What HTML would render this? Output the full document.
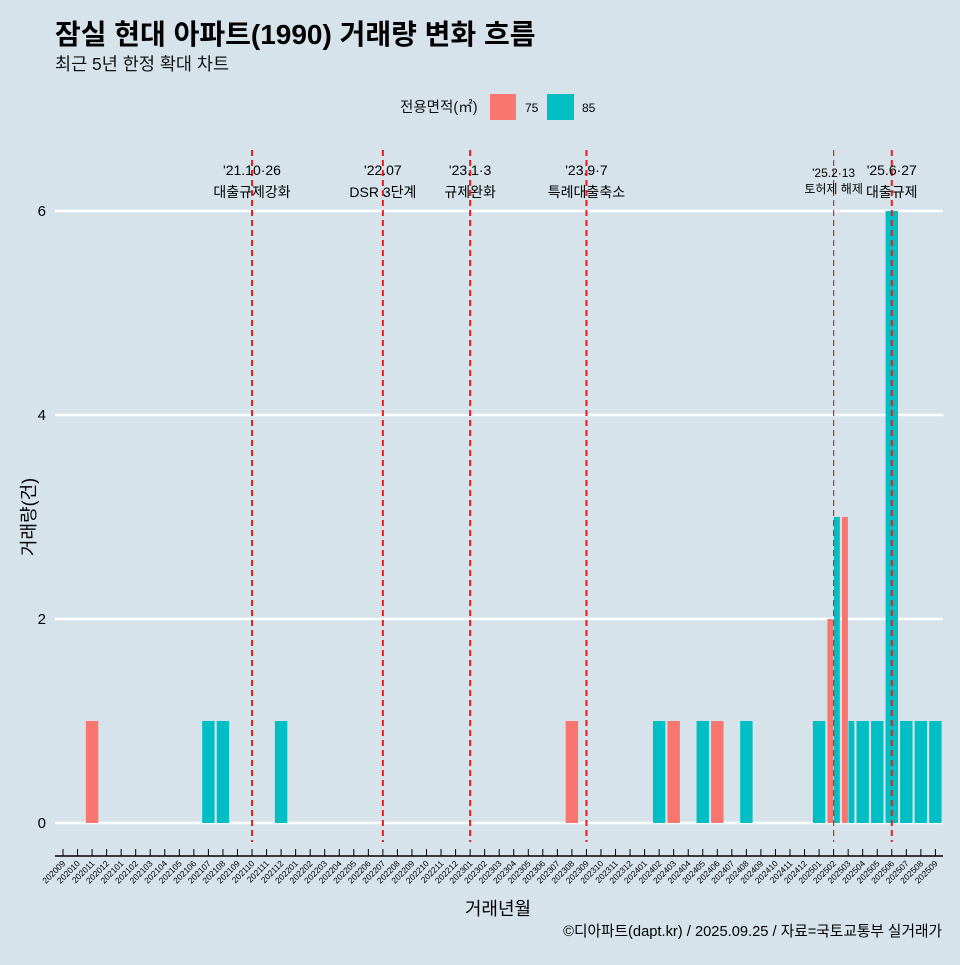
<!DOCTYPE html>
<html><head><meta charset="utf-8"><style>
body{margin:0;background:#d6e3ea;font-family:"Liberation Sans","Noto Sans CJK KR",sans-serif;}
svg text{font-family:"Liberation Sans","Noto Sans CJK KR",sans-serif;}
</style></head><body>
<svg id="c" width="960" height="960" xmlns="http://www.w3.org/2000/svg">
<rect width="960" height="960" fill="#d6e3ea"/>
<text x="55" y="44" font-size="28" font-weight="bold" fill="#000">잠실 현대 아파트(1990) 거래량 변화 흐름</text>
<text x="55" y="70" font-size="17.5" fill="#111">최근 5년 한정 확대 차트</text>
<g>
<text x="400" y="112" font-size="14.5" fill="#111">전용면적(㎡)</text>
<rect x="490" y="94" width="26" height="26" fill="#f8766d"/>
<text x="525" y="112" font-size="12">75</text>
<rect x="547" y="94" width="27" height="26" fill="#00bfc4"/>
<text x="582" y="112" font-size="12">85</text>
</g>
<g id="grid"></g><g id="bars"></g><g id="events"></g><g id="xaxis"></g>
<text transform="translate(35,517) rotate(-90)" text-anchor="middle" font-size="18">거래량(건)</text>
<text x="498" y="915" text-anchor="middle" font-size="18">거래년월</text>
<text x="942" y="936" text-anchor="end" font-size="14.7">©디아파트(dapt.kr) / 2025.09.25 / 자료=국토교통부 실거래가</text>
</svg>
<script>
const months=[];for(let y=2020,m=9;!(y===2025&&m===10);){months.push(''+y+(m<10?'0':'')+m);m++;if(m>12){m=1;y++;}}
const yTicks=[0,2,4,6];
const series75Months=['202011','202308','202403','202406','202502','202503'];
const series75Values=[1,1,1,1,2,3];
const series85Months=['202107','202108','202112','202402','202405','202408','202501','202502','202503','202504','202505','202506','202507','202508','202509'];
const series85Values=[1,1,1,1,1,1,1,3,1,1,1,6,1,1,1];
const eventMonths=['202110','202207','202301','202309','202502','202506'];
const eventDates=["'21.10·26","'22.07","'23.1·3","'23.9·7","'25.2·13","'25.6·27"];
const eventNames=['대출규제강화','DSR 3단계','규제완화','특례대출축소','토허제 해제','대출규제'];
const NS='http://www.w3.org/2000/svg';
const x=i=>63+i*14.54, y=v=>823-v*102;
function mk(tag,attrs,parent,txt){const e=document.createElementNS(NS,tag);for(const k in attrs)e.setAttribute(k,attrs[k]);if(txt!==undefined)e.textContent=txt;document.getElementById(parent).appendChild(e);return e;}
yTicks.forEach(t=>{
 let l=mk('line',{x1:55,x2:943,y1:y(t),y2:y(t),stroke:'#fff','stroke-width':2.5},'grid');
 
 
 let tx=mk('text',{x:46,y:y(t)+5,'text-anchor':'end','font-size':15},'grid',t);
 
 
});
const bw=13;
function drawBar(mon,val,col,name,both,side){
 const i=months.indexOf(mon);const cx=x(i);
 let x0,w;
 if(both){w=bw/2;x0=side===0?cx-bw/2:cx;}else{w=bw;x0=cx-bw/2;}
 const r=mk('rect',{x:x0+0.3,y:y(val),width:w-0.6,height:y(0)-y(val),fill:col},'bars');
 
 
}
series75Months.forEach((m,k)=>drawBar(m,series75Values[k],'#f8766d','bar-75',series85Months.includes(m),0));
series85Months.forEach((m,k)=>drawBar(m,series85Values[k],'#00bfc4','bar-85',series75Months.includes(m),1));
eventMonths.forEach((m,k)=>{
 const cx=x(months.indexOf(m));const thin=m==='202502';
 const l=mk('line',{x1:cx,x2:cx,y1:150,y2:842,stroke:'#ee1c1c','stroke-width':thin?1.2:2,'stroke-dasharray':'6,4'},'events');
 
 
 const fs=thin?12:14;
 const t1=mk('text',{x:cx,y:thin?177:175,'text-anchor':'middle','font-size':fs},'events',eventDates[k]);
 
 
 const t2=mk('text',{x:cx,y:thin?193:197,'text-anchor':'middle','font-size':fs},'events',eventNames[k]);
 
 
});
const ax=mk('line',{x1:55,x2:943,y1:856,y2:856,stroke:'#000','stroke-width':1.5},'xaxis');


months.forEach((m,i)=>{
 const t=mk('line',{x1:x(i),x2:x(i),y1:849,y2:856,stroke:'#000','stroke-width':1},'xaxis');
 
 
 const lb=mk('text',{x:x(i)+3,y:864,'text-anchor':'end','font-size':8.5,transform:`rotate(-45 ${x(i)+3} 864)`},'xaxis',m);
 
 
});
</script>
</body></html>
